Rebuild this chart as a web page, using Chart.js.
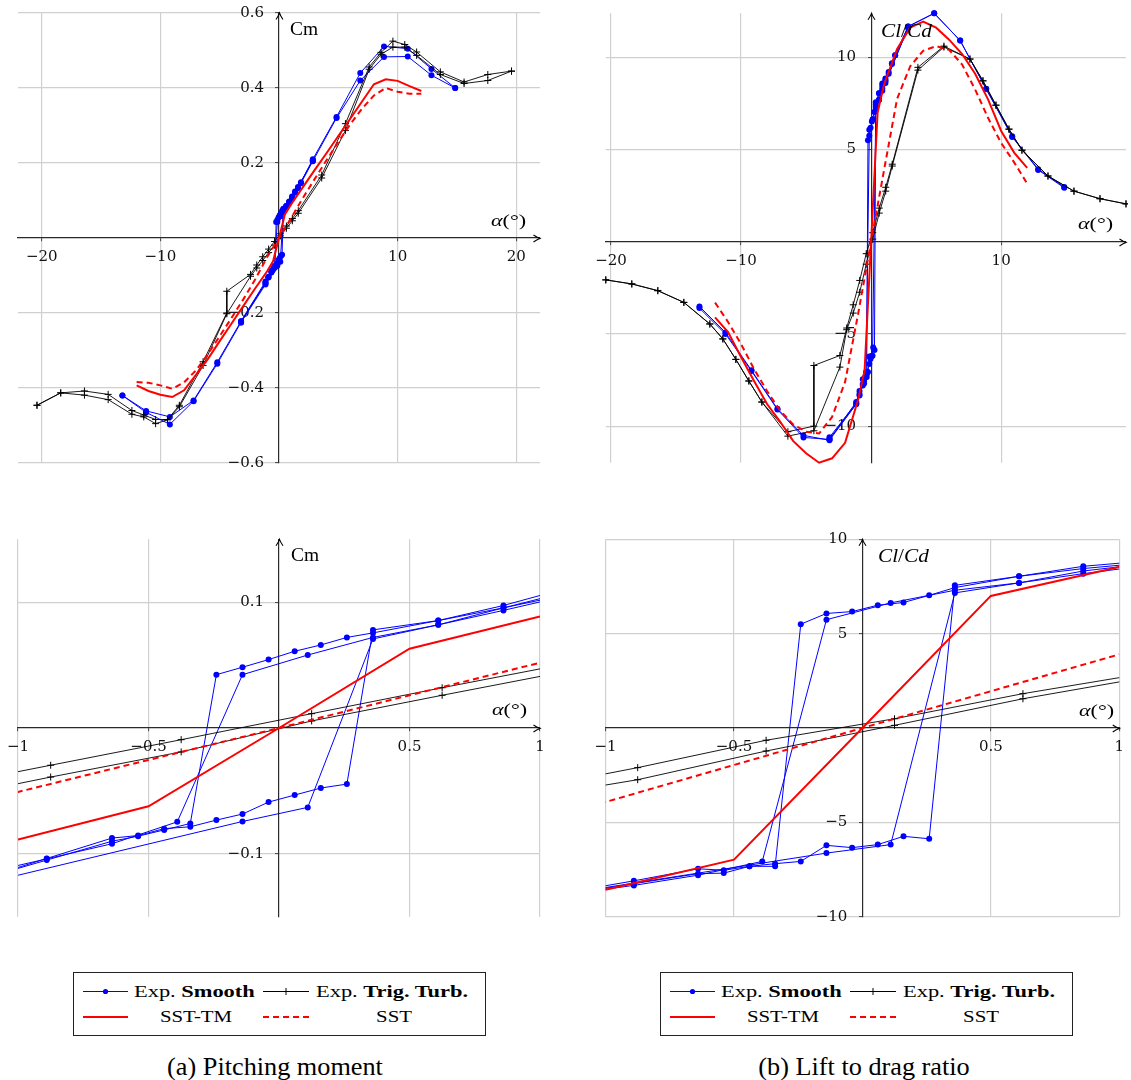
<!DOCTYPE html>
<html>
<head>
<meta charset="utf-8">
<script src="https://cdn.jsdelivr.net/npm/chart.js@4.4.1/dist/chart.umd.min.js"></script>
<style>
html,body{margin:0;padding:0;background:#fff;}
#page{position:relative;width:1131px;height:1080px;overflow:hidden;background:#fff;font-family:"Liberation Serif","Times New Roman",serif;color:#000;}
canvas{position:absolute;}
.ax{position:absolute;white-space:nowrap;line-height:1;transform-origin:left center;font-size:18px;}
.cm{transform:translateY(-50%) scaleX(1.08);}
.al{font-size:17px;transform:translateY(-50%) scaleX(1.3);}
.cc{transform:translateY(-50%) scaleX(1.18);}
.lg{position:absolute;top:972px;width:413px;height:64px;border:1px solid #222;box-sizing:border-box;}
.lg svg{position:absolute;left:-1px;top:-1px;}
.lt{position:absolute;white-space:nowrap;font-size:16px;line-height:1;transform-origin:left center;transform:translateY(-50%) scaleX(1.4);}
.lc{position:absolute;white-space:nowrap;font-size:16px;line-height:1;transform-origin:center center;transform:translate(-50%,-50%) scaleX(1.3);}
.cap{position:absolute;top:1066px;font-size:25px;white-space:nowrap;transform-origin:center center;transform:translate(-50%,-50%) scaleX(1.05);line-height:1;}
</style>
</head>
<body>
<div id="page">
<canvas id="c1" width="570" height="490" style="left:0;top:0"></canvas>
<canvas id="c2" width="556" height="490" style="left:575px;top:0"></canvas>
<canvas id="c3" width="570" height="420" style="left:0;top:520px"></canvas>
<canvas id="c4" width="556" height="420" style="left:575px;top:520px"></canvas>

<div class="ax cm" style="left:290px;top:29px;">Cm</div>
<div class="ax al" style="left:491px;top:220px;"><i>α</i>(°)</div>
<div class="ax cc" style="left:881px;top:31px;"><i>Cl</i>/<i>Cd</i></div>
<div class="ax al" style="left:1078px;top:223px;"><i>α</i>(°)</div>
<div class="ax cm" style="left:291px;top:555px;">Cm</div>
<div class="ax al" style="left:492px;top:709px;"><i>α</i>(°)</div>
<div class="ax cc" style="left:878px;top:556px;"><i>Cl</i>/<i>Cd</i></div>
<div class="ax al" style="left:1079px;top:710px;"><i>α</i>(°)</div>

<div class="lg" style="left:73px;">
  <svg width="413" height="64">
    <line x1="10" y1="19.5" x2="55" y2="19.5" stroke="#0000ff" stroke-width="1"/>
    <circle cx="32.5" cy="19.5" r="2.6" fill="#0000ff"/>
    <line x1="190" y1="19.5" x2="236" y2="19.5" stroke="#000" stroke-width="1"/>
    <line x1="213" y1="16" x2="213" y2="23" stroke="#000" stroke-width="1"/>
    <line x1="209.5" y1="19.5" x2="216.5" y2="19.5" stroke="#000" stroke-width="1"/>
    <line x1="10" y1="45" x2="55" y2="45" stroke="#ff0000" stroke-width="2"/>
    <line x1="190" y1="45" x2="236" y2="45" stroke="#ff0000" stroke-width="2" stroke-dasharray="6 4"/>
  </svg>
  <div class="lt" style="left:60px;top:18.5px;">Exp. <b>Smooth</b></div>
  <div class="lt" style="left:242px;top:18.5px;">Exp. <b>Trig. Turb.</b></div>
  <div class="lc" style="left:122px;top:44px;">SST-TM</div>
  <div class="lc" style="left:320px;top:44px;">SST</div>
</div>
<div class="lg" style="left:660px;">
  <svg width="413" height="64">
    <line x1="10" y1="19.5" x2="55" y2="19.5" stroke="#0000ff" stroke-width="1"/>
    <circle cx="32.5" cy="19.5" r="2.6" fill="#0000ff"/>
    <line x1="190" y1="19.5" x2="236" y2="19.5" stroke="#000" stroke-width="1"/>
    <line x1="213" y1="16" x2="213" y2="23" stroke="#000" stroke-width="1"/>
    <line x1="209.5" y1="19.5" x2="216.5" y2="19.5" stroke="#000" stroke-width="1"/>
    <line x1="10" y1="45" x2="55" y2="45" stroke="#ff0000" stroke-width="2"/>
    <line x1="190" y1="45" x2="236" y2="45" stroke="#ff0000" stroke-width="2" stroke-dasharray="6 4"/>
  </svg>
  <div class="lt" style="left:60px;top:18.5px;">Exp. <b>Smooth</b></div>
  <div class="lt" style="left:242px;top:18.5px;">Exp. <b>Trig. Turb.</b></div>
  <div class="lc" style="left:122px;top:44px;">SST-TM</div>
  <div class="lc" style="left:320px;top:44px;">SST</div>
</div>

<div class="cap" style="left:275px;">(a) Pitching moment</div>
<div class="cap" style="left:864px;">(b) Lift to drag ratio</div>
</div>

<script>
// ---------------- DATA ----------------
// Exp. Smooth – sweep 1 (increasing alpha)
const smoothUp1Alpha = [-13.2, -11.2, -9.2, -7.2, -5.2, -3.2, -1.14, -0.89, -0.64, -0.54, -0.44, -0.34, -0.24, -0.14, -0.04, 0.06, 0.16, 0.26, 0.36, 0.61, 0.86, 1.1, 1.35, 1.6, 1.85, 2.85, 4.85, 6.85, 8.85, 10.85, 12.85, 14.85];
const smoothUp1Cm = [-0.42, -0.461, -0.477, -0.433, -0.331, -0.222, -0.12, -0.1037, -0.0875, -0.0855, -0.080, -0.0785, -0.0732, -0.0684, -0.0589, -0.0533, -0.0477, -0.0446, 0.078, 0.0854, 0.0974, 0.111, 0.124, 0.136, 0.149, 0.21, 0.323, 0.44, 0.511, 0.505, 0.451, 0.40];
const smoothUp1ClCd = [-3.6, -5.0, -7.01, -9.1, -10.61, -10.72, -8.69, -8.1, -7.46, -7.54, -7.33, -7.19, -7.07, -6.22, -6.34, -6.18, -5.74, -5.87, 7.56, 8.04, 8.57, 8.85, 9.2, 9.63, 10.1, 11.67, 12.38, 10.9, 8.27, 5.68, 3.89, 2.92];
// Exp. Smooth – sweep 1 (decreasing alpha)
const smoothDown1Alpha = [14.85, 12.85, 10.85, 8.85, 6.85, 4.85, 2.85, 1.85, 1.6, 1.35, 1.1, 0.86, 0.61, 0.36, 0.26, 0.16, 0.06, -0.04, -0.14, -0.24, -0.34, -0.44, -0.54, -0.64, -0.89, -1.14, -3.2, -5.2, -7.2, -9.2, -11.2, -13.2];
const smoothDown1Cm = [0.40, 0.434, 0.484, 0.483, 0.42, 0.32, 0.205, 0.146, 0.133, 0.121, 0.108, 0.0955, 0.0854, 0.0756, 0.072, 0.066, 0.061, 0.0544, 0.0483, 0.0424, -0.0759, -0.081, -0.086, -0.090, -0.105, -0.12, -0.225, -0.335, -0.435, -0.497, -0.465, -0.42];
const smoothDown1ClCd = [2.97, 3.93, 5.71, 8.29, 10.9, 12.38, 11.66, 10.1, 9.67, 9.1, 8.75, 8.45, 8.04, 7.44, 7.03, 6.65, 6.51, 6.17, 6.07, 5.5, -7.33, -7.33, -7.69, -7.72, -8.25, -8.8, -10.76, -10.5, -9.06, -6.97, -4.92, -3.51];
// Exp. Smooth – sweep 2 (coarse)
const smoothUp2Alpha = [-3.2, -1.14, -0.14, 0.11, 0.36, 0.61, 0.86, 1.1, 2.85];
const smoothUp2Cm = [-0.225, -0.124, -0.0743, -0.0631, 0.0708, 0.082, 0.0935, 0.105, 0.207];
const smoothUp2ClCd = [-10.6, -8.75, -6.63, -6.18, 7.16, 7.69, 8.18, 8.6, 11.6];
const smoothDown2Alpha = [2.85, 1.1, 0.86, 0.61, 0.36, 0.11, -0.14, -0.39, -0.64, -0.89, -1.14, -3.2];
const smoothDown2Cm = [0.207, 0.106, 0.0955, 0.082, 0.072, 0.058, 0.0424, -0.0746, -0.092, -0.104, -0.116, -0.222];
const smoothDown2ClCd = [11.6, 8.7, 8.32, 7.69, 7.3, 6.63, 5.74, -7.07, -7.8, -8.34, -8.8, -10.7];

// Exp. Trig. Turb.
const turbUpAlpha = [-20.4, -18.4, -16.4, -14.4, -12.4, -11.4, -10.4, -9.4, -8.4, -6.4, -4.4, -2.4, -1.875, -1.375, -0.875, -0.375, 0.125, 0.625, 1.125, 1.625, 3.6, 5.6, 7.6, 8.6, 9.6, 10.6, 11.6, 13.6, 15.6, 17.6, 19.6];
const turbUpCm = [-0.446, -0.413, -0.419, -0.431, -0.47, -0.477, -0.495, -0.485, -0.45, -0.34, -0.202, -0.102, -0.08, -0.06, -0.039, -0.019, 0.0056, 0.026, 0.046, 0.066, 0.16, 0.287, 0.45, 0.49, 0.509, 0.509, 0.487, 0.436, 0.412, 0.42, 0.445];
const turbUpClCd = [-2.07, -2.29, -2.65, -3.29, -4.46, -5.27, -6.38, -7.55, -8.69, -10.54, -10.25, -6.8, -4.77, -3.87, -2.74, -1.22, 0.14, 1.55, 2.74, 4.1, 9.3, 10.55, 9.9, 8.72, 7.4, 6.1, 4.96, 3.56, 2.74, 2.33, 2.05];
const turbDownAlpha = [19.6, 17.6, 15.6, 13.6, 11.6, 10.6, 9.6, 8.6, 7.6, 5.6, 3.6, 1.625, 1.125, 0.625, 0.125, -0.375, -0.875, -1.375, -1.875, -2.4, -4.4, -4.4, -6.4, -8.4, -9.4, -10.4, -11.4, -12.4, -14.4, -16.4, -18.4, -20.4];
const turbDownCm = [0.445, 0.436, 0.416, 0.443, 0.496, 0.516, 0.525, 0.495, 0.456, 0.305, 0.168, 0.073, 0.052, 0.032, 0.0114, -0.0093, -0.0296, -0.05, -0.072, -0.097, -0.142, -0.2, -0.33, -0.446, -0.484, -0.484, -0.472, -0.46, -0.417, -0.408, -0.413, -0.446];
const turbDownClCd = [2.05, 2.33, 2.74, 3.56, 4.96, 6.1, 7.4, 8.72, 9.9, 10.6, 9.45, 4.2, 2.95, 1.82, 0.49, -0.65, -2.1, -3.42, -4.68, -6.17, -6.71, -10.0, -10.3, -8.69, -7.55, -6.38, -5.27, -4.46, -3.29, -2.66, -2.29, -2.07];

// Simulations
const simAlpha = [-12, -11, -10, -9, -8, -7, -6, -5, -4, -3, -2, -1, -0.5, 0, 0.5, 1, 2, 3, 4, 5, 6, 7, 8, 9, 10, 11, 12];
const sstTmCm = [-0.393, -0.408, -0.418, -0.424, -0.406, -0.365, -0.323, -0.275, -0.228, -0.181, -0.134, -0.0886, -0.0622, 0, 0.063, 0.0886, 0.135, 0.181, 0.226, 0.272, 0.318, 0.364, 0.41, 0.423, 0.419, 0.405, 0.392];
const sstCm = [-0.384, -0.386, -0.393, -0.402, -0.385, -0.353, -0.31, -0.262, -0.213, -0.163, -0.11, -0.0508, -0.0254, 0, 0.026, 0.0519, 0.106, 0.157, 0.207, 0.256, 0.303, 0.345, 0.38, 0.40, 0.39, 0.385, 0.385];
const sstTmClCd = [-4.1, -4.9, -6.25, -7.55, -8.8, -9.75, -10.8, -11.47, -11.98, -11.74, -10.9, -8.57, -6.98, 0, 7.0, 8.53, 10.45, 11.6, 11.93, 11.6, 10.95, 10.17, 9.1, 7.7, 6.0, 4.83, 4.0];
const sstClCd = [-3.3, -4.35, -5.55, -6.9, -8.1, -9.15, -9.9, -10.3, -10.4, -9.5, -7.6, -3.92, -1.96, 0, 1.95, 3.9, 7.75, 9.5, 10.35, 10.6, 10.4, 9.6, 8.25, 6.7, 5.35, 4.3, 3.15];

// Tick values
const alphaWideTicks = [-20, -10, 0, 10, 20];
const alphaNarrowTicks = [-1, -0.5, 0, 0.5, 1];
const cmWideTicks = [-0.6, -0.4, -0.2, 0, 0.2, 0.4, 0.6];
const cmNarrowTicks = [-0.1, 0, 0.1];
const clcdTicks = [-10, -5, 0, 5, 10];

// ---------------- STYLES ----------------
const TICK_FONT = '"DejaVu Serif", "Liberation Serif", serif';
const GRID_COLOR = '#d0d0d0';
const styleSmooth = {showLine: true, borderColor: '#0000ff', backgroundColor: '#0000ff', borderWidth: 1, pointStyle: 'circle', pointRadius: 3, pointBackgroundColor: '#0000ff', pointBorderWidth: 0, order: 4};
const styleTurb = {showLine: true, borderColor: '#000000', backgroundColor: '#000000', borderWidth: 0.9, pointStyle: 'cross', pointRadius: 3.5, pointBorderColor: '#000000', pointBorderWidth: 1, order: 3};
const styleSstTm = {showLine: true, borderColor: '#ff0000', borderWidth: 2, pointRadius: 0, order: 2};
const styleSst = {showLine: true, borderColor: '#ff0000', borderWidth: 2, borderDash: [6, 4], pointRadius: 0, order: 1};

function series(xs, ys, style) {
  return Object.assign({data: xs.map((x, i) => ({x: x, y: ys[i]}))}, style);
}
function tickText(v) {
  if (Math.abs(v) < 1e-12) return '';
  return String(v).replace('-', '\u2212');
}
function axisOptions(axis, min, max, tickValues) {
  const isY = axis === 'y';
  return {
    type: 'linear',
    min: min, max: max,
    position: isY ? {x: 0} : {y: 0},
    afterBuildTicks: (scale) => {
      scale.ticks = tickValues.filter(v => v >= min - 1e-9 && v <= max + 1e-9).map(v => ({value: v}));
    },
    grid: {
      color: (ctx) => (ctx.tick && Math.abs(ctx.tick.value) < 1e-12) ? 'rgba(0,0,0,0)' : GRID_COLOR,
      lineWidth: 1.2,
      drawTicks: true,
      tickLength: 3,
      tickColor: '#444',
      tickWidth: 1
    },
    border: {display: true, color: '#2a2a2a', width: 1.2},
    ticks: {
      autoSkip: false, maxRotation: 0, minRotation: 0,
      padding: isY ? 0 : 7,
      color: '#111',
      font: {family: TICK_FONT, size: 15},
      callback: (v) => { const s = tickText(v); return (s && isY) ? s + '\u2002\u2002' : s; }
    }
  };
}
function drawHead(ctx, x, y, ang) {
  ctx.save();
  ctx.translate(x, y);
  ctx.rotate(ang);
  ctx.beginPath();
  ctx.moveTo(-6.5, -3.5);
  ctx.quadraticCurveTo(-2.5, -0.8, 0, 0);
  ctx.quadraticCurveTo(-2.5, 0.8, -6.5, 3.5);
  ctx.stroke();
  ctx.restore();
}
const arrowPlugin = {
  id: 'axisArrows',
  afterDraw(chart) {
    const ctx = chart.ctx, a = chart.chartArea;
    const x0 = Math.round(chart.scales.x.getPixelForValue(0)) + 0.5;
    const y0 = Math.round(chart.scales.y.getPixelForValue(0)) + 0.5;
    ctx.save();
    ctx.strokeStyle = '#000';
    ctx.lineWidth = 1.1;
    drawHead(ctx, a.right, y0, 0);
    drawHead(ctx, x0, a.top, -Math.PI / 2);
    ctx.restore();
  }
};
function makeChart(id, datasets, xOpt, yOpt, pad, clip) {
  return new Chart(document.getElementById(id), {
    type: 'scatter',
    data: {datasets: datasets.map(d => Object.assign({clip: clip}, d))},
    options: {
      responsive: false,
      animation: false,
      events: [],
      layout: {padding: pad},
      plugins: {legend: {display: false}, tooltip: {enabled: false}, title: {display: false}},
      scales: {x: xOpt, y: yOpt},
      elements: {line: {tension: 0}}
    },
    plugins: [arrowPlugin]
  });
}

const cmSets = () => [
  series(smoothUp1Alpha, smoothUp1Cm, styleSmooth),
  series(smoothDown1Alpha, smoothDown1Cm, styleSmooth),
  series(smoothUp2Alpha, smoothUp2Cm, styleSmooth),
  series(smoothDown2Alpha, smoothDown2Cm, styleSmooth),
  series(turbUpAlpha, turbUpCm, styleTurb),
  series(turbDownAlpha, turbDownCm, styleTurb),
  series(simAlpha, sstTmCm, styleSstTm),
  series(simAlpha, sstCm, styleSst)
];
const clcdSets = () => [
  series(smoothUp1Alpha, smoothUp1ClCd, styleSmooth),
  series(smoothDown1Alpha, smoothDown1ClCd, styleSmooth),
  series(smoothUp2Alpha, smoothUp2ClCd, styleSmooth),
  series(smoothDown2Alpha, smoothDown2ClCd, styleSmooth),
  series(turbUpAlpha, turbUpClCd, styleTurb),
  series(turbDownAlpha, turbDownClCd, styleTurb),
  series(simAlpha, sstTmClCd, styleSstTm),
  series(simAlpha, sstClCd, styleSst)
];

makeChart('c1', cmSets(),
  axisOptions('x', -22, 22, alphaWideTicks),
  axisOptions('y', -0.6, 0.6, cmWideTicks),
  {left: 18, right: 30, top: 13, bottom: 27},
  {left: 0, right: 0, top: 4, bottom: 4});
makeChart('c2', clcdSets(),
  axisOptions('x', -20.4, 19.6, alphaWideTicks),
  axisOptions('y', -11.98, 12.38, clcdTicks),
  {left: 30.8, right: 3.2, top: 13.3, bottom: 27.3},
  {left: 4, right: 2, top: 5, bottom: 3});
makeChart('c3', cmSets(),
  axisOptions('x', -1, 1, alphaNarrowTicks),
  axisOptions('y', -0.15, 0.15, cmNarrowTicks),
  {left: 18, right: 30, top: 19.3, bottom: 23.3},
  0);
makeChart('c4', clcdSets(),
  axisOptions('x', -1, 1, alphaNarrowTicks),
  axisOptions('y', -10, 10, clcdTicks),
  {left: 30.6, right: 3.6, top: 19.3, bottom: 23.3},
  0);
</script>
</body>
</html>
